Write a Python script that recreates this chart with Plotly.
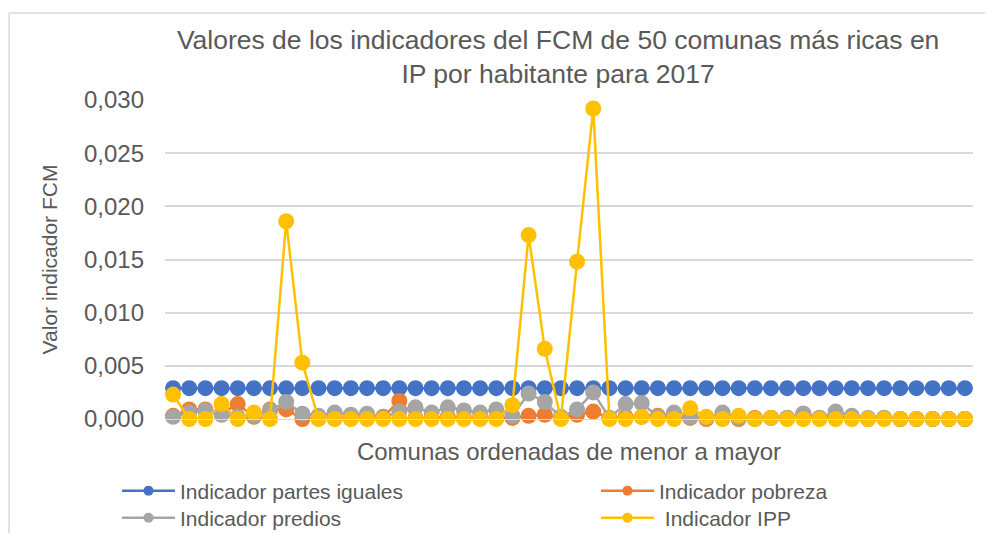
import plotly.graph_objects as go

# comunas 1..50 (ordenadas de menor a mayor)
comunas = list(range(1, 51))

partes_iguales = [
    0.0029, 0.0029, 0.0029, 0.0029, 0.0029, 0.0029, 0.0029, 0.0029, 0.0029, 0.0029,
    0.0029, 0.0029, 0.0029, 0.0029, 0.0029, 0.0029, 0.0029, 0.0029, 0.0029, 0.0029,
    0.0029, 0.0029, 0.0029, 0.0029, 0.0029, 0.0029, 0.0029, 0.0029, 0.0029, 0.0029,
    0.0029, 0.0029, 0.0029, 0.0029, 0.0029, 0.0029, 0.0029, 0.0029, 0.0029, 0.0029,
    0.0029, 0.0029, 0.0029, 0.0029, 0.0029, 0.0029, 0.0029, 0.0029, 0.0029, 0.0029,
]
pobreza = [
    0.0003, 0.0009, 0.0009, 0.0005, 0.0014, 0.0002, 0.0009, 0.0009, 0.0000, 0.0001,
    0.0001, 0.0001, 0.0001, 0.0002, 0.0017, 0.0001, 0.0001, 0.0002, 0.0001, 0.0001,
    0.0001, 0.0001, 0.0003, 0.0004, 0.0001, 0.0004, 0.0007, 0.0001, 0.0002, 0.0002,
    0.0003, 0.0001, 0.0001, 0.0000, 0.0001, 0.0000, 0.0001, 0.0001, 0.0001, 0.0005,
    0.0001, 0.0002, 0.0001, 0.0000, 0.0001, 0.0000, 0.0000, 0.0000, 0.0000, 0.0000,
]
predios = [
    0.0002, 0.0006, 0.0008, 0.0004, 0.0002, 0.0003, 0.0008, 0.0016, 0.0005, 0.0003,
    0.0006, 0.0004, 0.0005, 0.0001, 0.0007, 0.0011, 0.0006, 0.0011, 0.0008, 0.0006,
    0.0009, 0.0003, 0.0024, 0.0016, 0.0002, 0.0009, 0.0025, 0.0001, 0.0014, 0.0015,
    0.0002, 0.0006, 0.0002, 0.0001, 0.0006, 0.0001, 0.0000, 0.0001, 0.0001, 0.0005,
    0.0001, 0.0007, 0.0003, 0.0001, 0.0001, 0.0000, 0.0000, 0.0000, 0.0000, 0.0000,
]
ipp = [
    0.0023, 0.0000, 0.0000, 0.0014, 0.0000, 0.0006, 0.0000, 0.0186, 0.0053, 0.0000,
    0.0000, 0.0000, 0.0000, 0.0000, 0.0000, 0.0000, 0.0000, 0.0000, 0.0000, 0.0000,
    0.0000, 0.0013, 0.0173, 0.0066, 0.0000, 0.0148, 0.0292, 0.0000, 0.0000, 0.0002,
    0.0000, 0.0000, 0.0010, 0.0002, 0.0000, 0.0003, 0.0000, 0.0001, 0.0000, 0.0000,
    0.0000, 0.0000, 0.0000, 0.0000, 0.0000, 0.0000, 0.0000, 0.0000, 0.0000, 0.0000,
]

# name, values, colour, legend slot
series = [
    ("Indicador partes iguales", partes_iguales, "#4472C4", "legend"),
    ("Indicador pobreza", pobreza, "#ED7D31", "legend2"),
    ("Indicador predios", predios, "#A5A5A5", "legend3"),
    (" Indicador IPP", ipp, "#FFC000", "legend4"),
]

fig = go.Figure()

for name, vals, color, leg in series:
    fig.add_trace(go.Scatter(
        x=comunas, y=vals, mode="lines+markers", name=name,
        line=dict(color=color, width=2.5),
        marker=dict(color=color, size=16),
        cliponaxis=False, showlegend=False,
    ))

# legend entries with smaller markers, like the original
for name, vals, color, leg in series:
    fig.add_trace(go.Scatter(
        x=[None], y=[None], mode="lines+markers", name=name,
        line=dict(color=color, width=2.5),
        marker=dict(color=color, size=10),
        legend=leg,
    ))

text_color = "#595959"


def leg(x, y):
    return dict(
        orientation="h", x=x, xanchor="left", y=y, yanchor="middle",
        font=dict(size=21, color=text_color), bgcolor="rgba(0,0,0,0)",
        itemwidth=53,
    )


fig.update_layout(
    width=993, height=533,
    margin=dict(l=157, r=28, t=92, b=122, autoexpand=False),
    paper_bgcolor="white", plot_bgcolor="white",
    font=dict(family="Arial, Liberation Sans, sans-serif", color=text_color),
    separators=",.",
    title=dict(
        text="Valores de los indicadores del FCM de 50 comunas más ricas en<br>IP por habitante para 2017",
        font=dict(size=26.5, color=text_color),
        x=0.554, xanchor="center", xref="container",
        y=1 - 41 / 533, yanchor="top", yref="container",
    ),
    legend=leg(-0.0594, -0.2257),
    legend2=leg(0.5334, -0.2257),
    legend3=leg(-0.0594, -0.3103),
    legend4=leg(0.5334, -0.3103),
    showlegend=True,
)

fig.update_xaxes(
    range=[0.5, 50.5], showticklabels=False, showgrid=False,
    showline=True, linecolor="#D9D9D9", linewidth=1,
    ticks="", zeroline=False,
    title=dict(text="Comunas ordenadas de menor a mayor",
               font=dict(size=24, color=text_color), standoff=24),
)
fig.update_yaxes(
    range=[0, 0.030], dtick=0.005, tickformat=".3f",
    showgrid=True, gridcolor="#D9D9D9", gridwidth=1.5,
    zeroline=False, showline=False, ticks="",
    ticklabelstandoff=20,
    tickfont=dict(size=24, color=text_color),
    title=dict(text="Valor indicador FCM",
               font=dict(size=21, color=text_color), standoff=20),
)

# chart area border (left and top edges visible in the original)
fig.add_shape(type="line", xref="paper", yref="paper",
              x0=-0.193, x1=-0.193, y0=1.273, y1=-0.4,
              line=dict(color="#D9D9D9", width=1.5))
fig.add_shape(type="line", xref="paper", yref="paper",
              x0=-0.193, x1=1.1, y0=1.273, y1=1.273,
              line=dict(color="#D9D9D9", width=1.5))

fig.write_html("out.html")
